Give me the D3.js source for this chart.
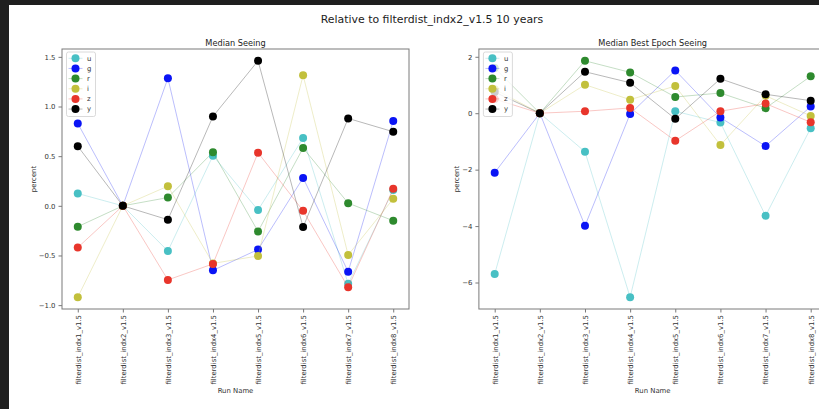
<!DOCTYPE html>
<html>
<head>
<meta charset="utf-8">
<script src="https://cdn.jsdelivr.net/npm/d3@7"></script>
<style>
  html, body { margin: 0; padding: 0; background: #1f1f1f; overflow: hidden; }
  svg { display: block; font-family: "DejaVu Sans", sans-serif; }
</style>
</head>
<body>
<div id="chart"></div>
<script>
// categories and series
var runNames = ["filterdist_indx1_v1.5", "filterdist_indx2_v1.5", "filterdist_indx3_v1.5", "filterdist_indx4_v1.5",
                "filterdist_indx5_v1.5", "filterdist_indx6_v1.5", "filterdist_indx7_v1.5", "filterdist_indx8_v1.5"];
var filters = ["u", "g", "r", "i", "z", "y"];
var filterColors = ["#48c0c4", "#0a14f5", "#2e8a2e", "#c2c03c", "#e8352b", "#000000"];

// Median Seeing (percent)
var seeingU = [0.124, 0, -0.455, 0.505, -0.043, 0.683, -0.786, 0.16];
var seeingG = [0.83, 0, 1.285, -0.65, -0.44, 0.281, -0.663, 0.853];
var seeingR = [-0.21, 0, 0.083, 0.54, -0.258, 0.582, 0.027, -0.15];
var seeingI = [-0.92, 0, 0.198, -0.58, -0.505, 1.315, -0.495, 0.07];
var seeingZ = [-0.42, 0, -0.746, -0.585, 0.535, -0.05, -0.82, 0.171];
var seeingY = [0.60, 0, -0.14, 0.90, 1.46, -0.214, 0.88, 0.746];

// Median Best Epoch Seeing (percent)
var bestU = [-5.70, 0, -1.366, -6.52, 0.07, -0.33, -3.636, -0.53];
var bestG = [-2.107, 0, -3.99, -0.025, 1.517, -0.155, -1.165, 0.235];
var bestR = [1.6, 0, 1.857, 1.447, 0.575, 0.716, 0.18, 1.31];
var bestI = [0.85, 0, 1.01, 0.48, 0.963, -1.13, 0.62, -0.095];
var bestZ = [0.5, 0, 0.07, 0.187, -0.978, 0.07, 0.34, -0.32];
var bestY = [0.75, 0, 1.47, 1.08, -0.2, 1.22, 0.67, 0.445];

var seeingTicks = [-1.0, -0.5, 0.0, 0.5, 1.0, 1.5];
var bestTicks = [-6, -4, -2, 0, 2];

var W = 819, H = 409;

var svg = d3.select("#chart").append("svg")
    .attr("width", W)
    .attr("height", H);

// white figure area (the dark strip is the notebook frame)
svg.append("rect")
    .attr("x", 9).attr("y", 5)
    .attr("width", W).attr("height", H)
    .attr("fill", "#ffffff");

svg.append("text")
    .attr("x", 432).attr("y", 23)
    .attr("text-anchor", "middle")
    .style("font-size", "10.9px")
    .attr("fill", "#222")
    .text("Relative to filterdist_indx2_v1.5 10 years");

function drawPanel(opts) {
  var top = 49, bottom = 309;
  var series = filters.map(function(f, k) {
    return { name: f, color: filterColors[k], values: opts.series[k] };
  });

  var x = d3.scalePoint()
      .domain(runNames)
      .range([opts.left, opts.right])
      .padding(0.35);

  var all = d3.merge(opts.series);
  var ext = d3.extent(all), pad = (ext[1] - ext[0]) * 0.05;
  var y = d3.scaleLinear()
      .domain([ext[0] - pad, ext[1] + pad])
      .range([bottom, top]);

  var g = svg.append("g");

  // data
  var line = d3.line()
      .x(function(d, i) { return x(runNames[i]); })
      .y(function(d) { return y(d); });

  series.forEach(function(s) {
    g.append("path")
        .attr("d", line(s.values))
        .attr("fill", "none")
        .attr("stroke", s.color)
        .attr("stroke-width", 1)
        .attr("stroke-opacity", 0.28);
    g.selectAll(null)
        .data(s.values)
        .enter()
        .append("circle")
          .attr("cx", function(d, i) { return x(runNames[i]); })
          .attr("cy", function(d) { return y(d); })
          .attr("r", 4)
          .attr("fill", s.color);
  });

  // frame
  g.append("rect")
      .attr("x", opts.left).attr("y", top)
      .attr("width", opts.right - opts.left).attr("height", bottom - top)
      .attr("fill", "none")
      .attr("stroke", "#7a7a7a")
      .attr("stroke-width", 1);

  // axes
  var yAxis = g.append("g")
      .attr("transform", "translate(" + opts.left + ",0)")
      .call(d3.axisLeft(y).tickValues(opts.ticks).tickFormat(d3.format(opts.fmt)).tickSize(3.5).tickPadding(3));
  yAxis.select(".domain").remove();
  yAxis.selectAll("line").attr("stroke", "#7a7a7a");
  yAxis.selectAll("text").style("font-size", "6.9px").attr("fill", "#333").attr("font-family", "DejaVu Sans");

  var xAxis = g.append("g")
      .attr("transform", "translate(0," + bottom + ")")
      .call(d3.axisBottom(x).tickSize(3.5));
  xAxis.select(".domain").remove();
  xAxis.selectAll("line").attr("stroke", "#7a7a7a");
  xAxis.selectAll("text")
      .attr("transform", "rotate(-90)")
      .attr("x", -6)
      .attr("y", 0)
      .attr("dy", "0.35em")
      .attr("text-anchor", "end")
      .style("font-size", "6.9px")
      .attr("fill", "#333")
      .attr("font-family", "DejaVu Sans");

  // titles and labels
  var cx = (opts.left + opts.right) / 2;
  g.append("text")
      .attr("x", cx).attr("y", 46)
      .attr("text-anchor", "middle")
      .style("font-size", "8.2px")
      .attr("fill", "#222")
      .text(opts.title);

  g.append("text")
      .attr("x", cx).attr("y", 393)
      .attr("text-anchor", "middle")
      .style("font-size", "6.9px")
      .attr("fill", "#333")
      .text("Run Name");

  g.append("text")
      .attr("transform", "translate(" + opts.ylabelX + "," + ((top + bottom) / 2) + ") rotate(-90)")
      .attr("text-anchor", "middle")
      .attr("dy", "0.35em")
      .style("font-size", "6.9px")
      .attr("fill", "#333")
      .text("percent");

  // legend
  var lx = opts.left + 4.5, ly = 52;
  var leg = g.append("g");
  leg.append("rect")
      .attr("x", lx).attr("y", ly)
      .attr("width", 29).attr("height", 64.5)
      .attr("rx", 2)
      .attr("fill", "#ffffff")
      .attr("fill-opacity", 0.8)
      .attr("stroke", "#d0d0d0")
      .attr("stroke-width", 0.8);
  var rows = leg.selectAll("g.row")
      .data(series)
      .enter()
      .append("g")
        .attr("class", "row")
        .attr("transform", function(d, i) { return "translate(0," + (58.3 + i * 10.15) + ")"; });
  rows.append("line")
      .attr("x1", lx + 2).attr("x2", lx + 16)
      .attr("stroke", function(d) { return d.color; })
      .attr("stroke-opacity", 0.28);
  rows.append("circle")
      .attr("cx", lx + 9).attr("r", 4)
      .attr("fill", function(d) { return d.color; });
  rows.append("text")
      .attr("x", lx + 20.5)
      .attr("dy", "0.35em")
      .style("font-size", "6.9px")
      .attr("fill", "#333")
      .text(function(d) { return d.name; });
}

drawPanel({
  left: 62, right: 409,
  title: "Median Seeing",
  series: [seeingU, seeingG, seeingR, seeingI, seeingZ, seeingY],
  ticks: seeingTicks, fmt: ".1f",
  ylabelX: 33.3
});

drawPanel({
  left: 478.9, right: 826.5,
  title: "Median Best Epoch Seeing",
  series: [bestU, bestG, bestR, bestI, bestZ, bestY],
  ticks: bestTicks, fmt: "d",
  ylabelX: 456.7
});
</script>
</body>
</html>
